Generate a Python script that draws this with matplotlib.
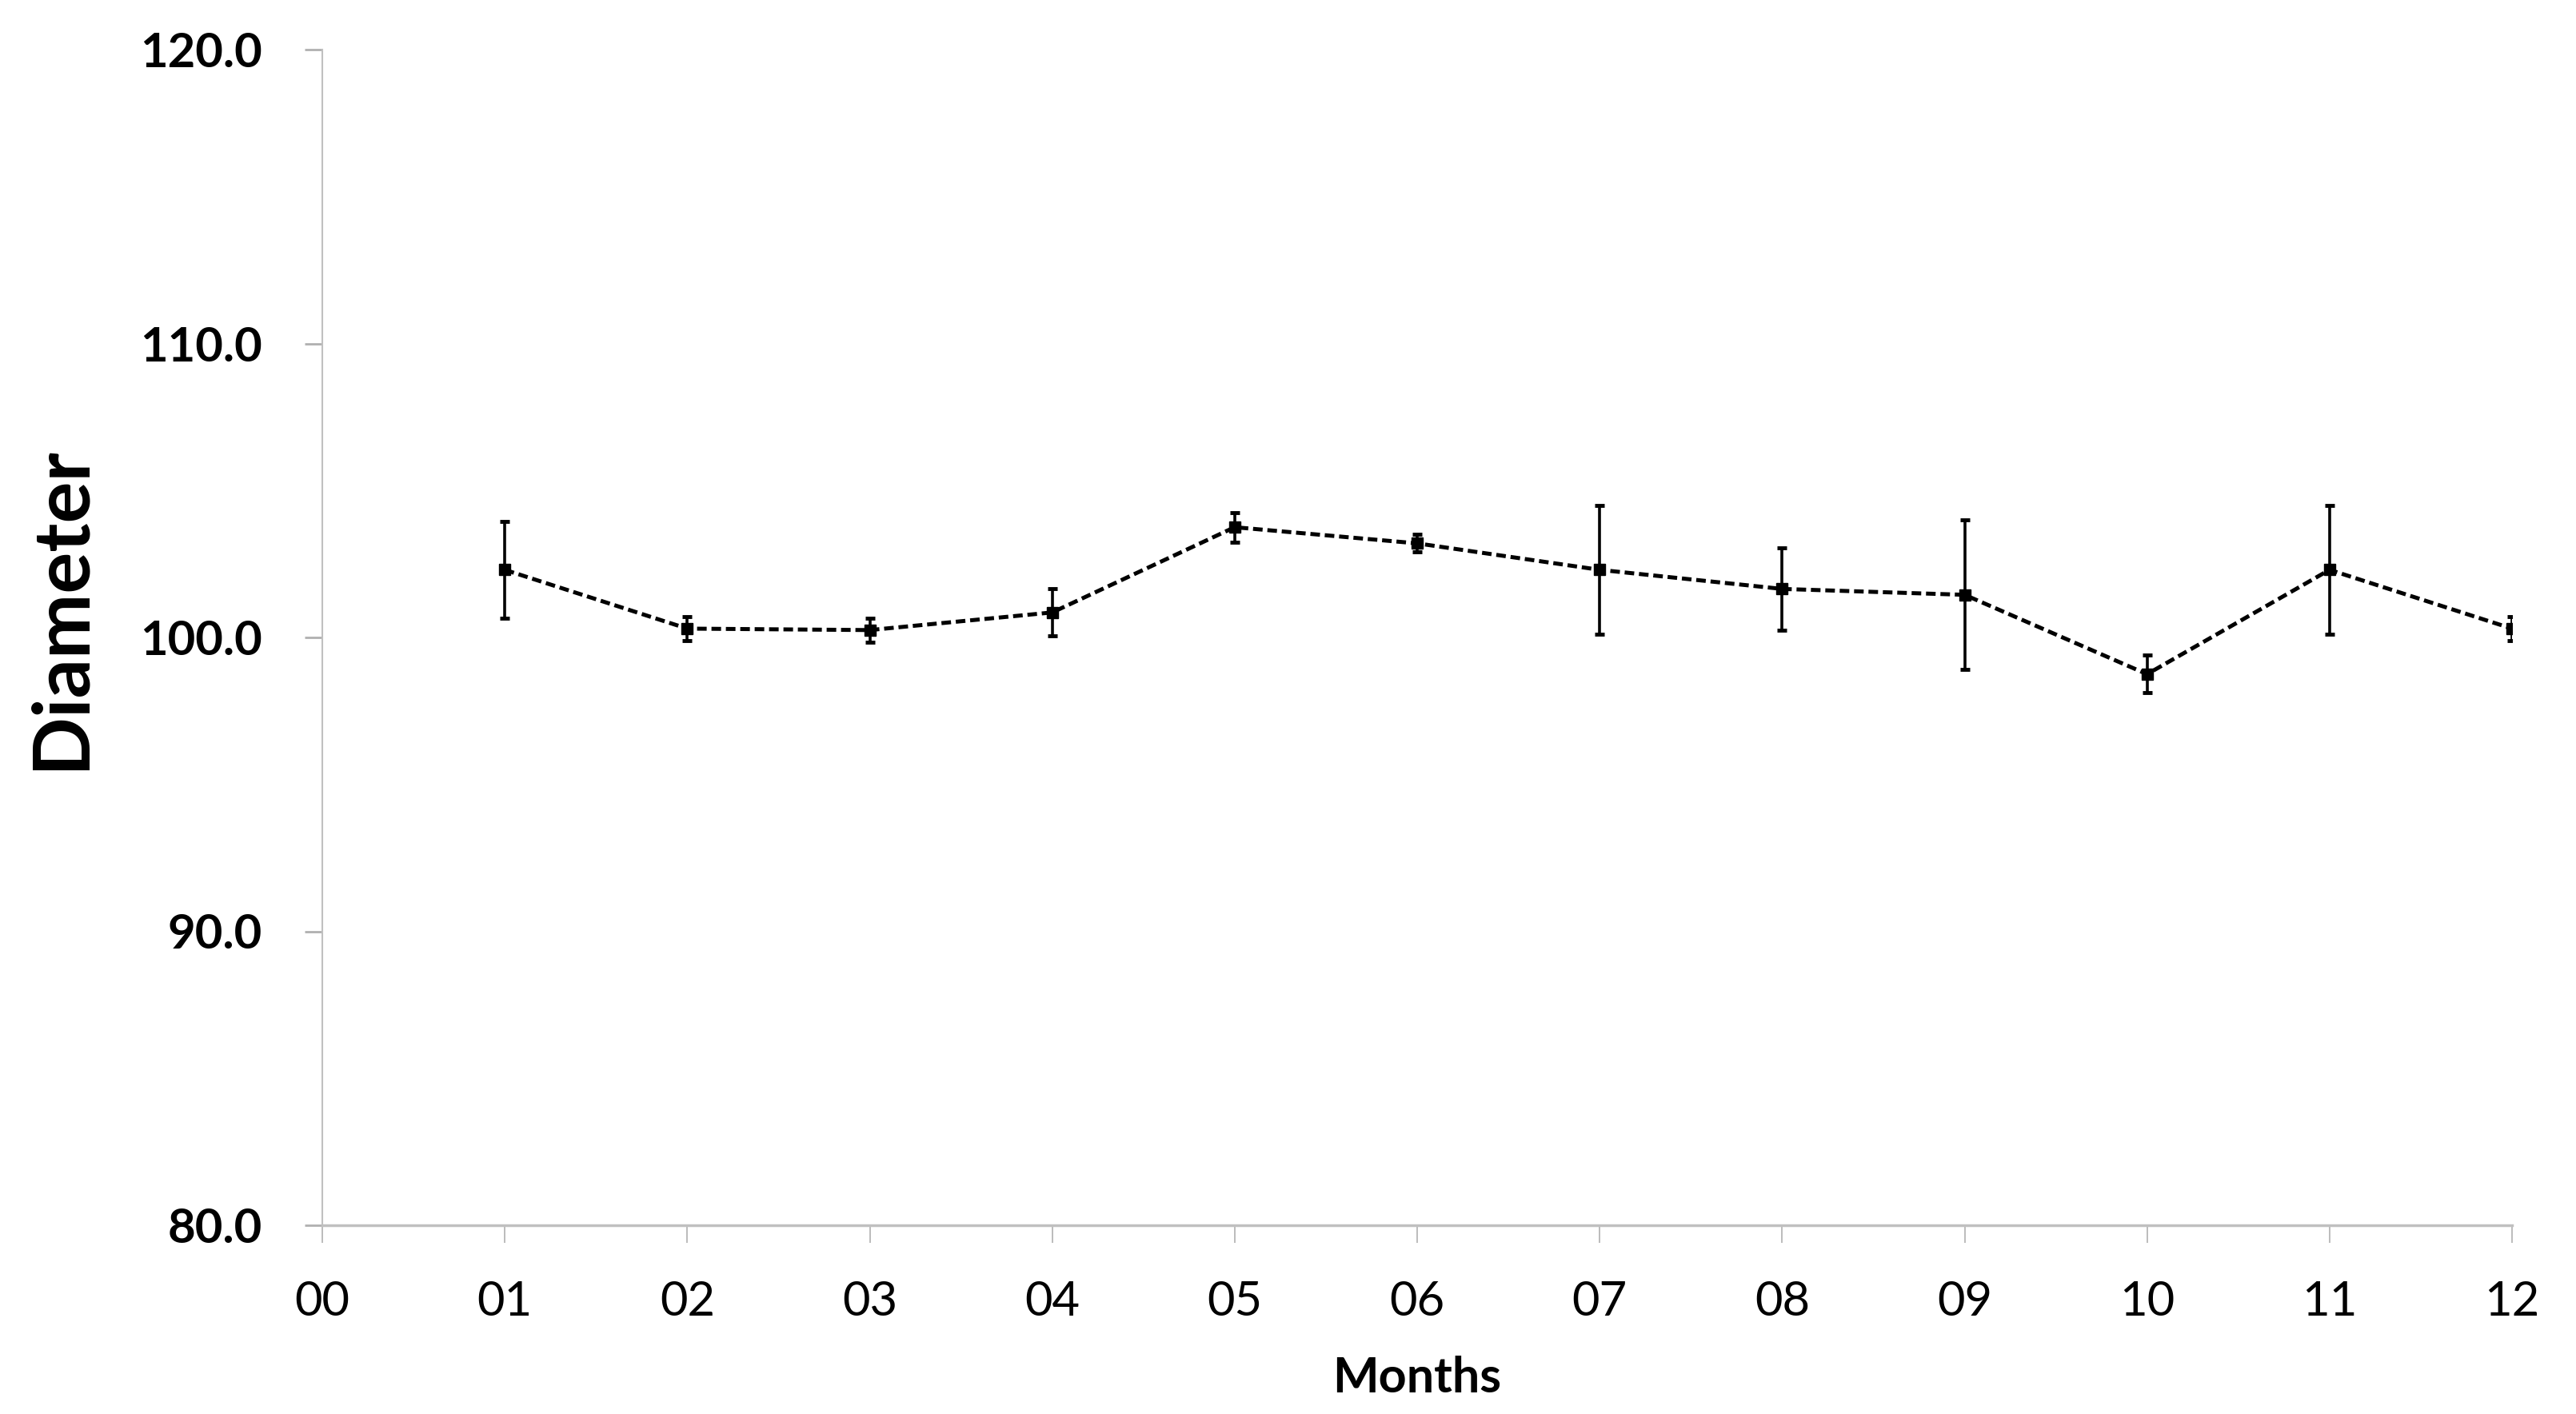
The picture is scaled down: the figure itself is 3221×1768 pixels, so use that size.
import matplotlib
matplotlib.use("Agg")
import matplotlib.pyplot as plt

months = ["00", "01", "02", "03", "04", "05", "06", "07", "08", "09", "10", "11", "12"]
x_pos = [1, 2, 3, 4, 5, 6, 7, 8, 9, 10, 11, 12]
diameter = [102.3, 100.3, 100.25, 100.85, 103.75, 103.2, 102.3, 101.65, 101.45, 98.75, 102.3, 100.3]
err = [1.65, 0.42, 0.4, 0.8, 0.5, 0.3, 2.18, 1.4, 2.55, 0.64, 2.18, 0.42]
y_ticks = [80.0, 90.0, 100.0, 110.0, 120.0]

plt.rcParams['font.family'] = ['Lato', 'DejaVu Sans']

fig = plt.figure(figsize=(32.21, 17.68), dpi=100)
ax = fig.add_axes([403 / 3221, 1 - 1532 / 1768, (3141 - 403) / 3221, (1532 - 62) / 1768])

ax.plot(x_pos, diameter, ls=(0, (2.4, 1.2)), color='black', lw=3.6,
        marker='s', markersize=10, markerfacecolor='black', markeredgecolor='black', zorder=3)
ax.errorbar(x_pos, diameter, yerr=err, fmt='none', ecolor='black', elinewidth=2.6,
            capsize=4.5, capthick=3.5, zorder=4)

ax.set_xlim(0, 12)
ax.set_ylim(80, 120)
ax.set_xticks(range(len(months)))
ax.set_xticklabels(months)
ax.set_yticks(y_ticks)
ax.set_yticklabels([f"{v:.1f}" for v in y_ticks], fontweight='bold')

for s in ['top', 'right']:
    ax.spines[s].set_visible(False)
ax.spines['left'].set_color('#c0c0c0')
ax.spines['left'].set_linewidth(1.5)
ax.spines['bottom'].set_color('#c0c0c0')
ax.spines['bottom'].set_linewidth(2.5)

ax.tick_params(axis='y', length=16, width=2, color='#b0b0b0', pad=38, labelsize=43)
ax.tick_params(axis='x', length=16, width=1.2, color='#b0b0b0', pad=34, labelsize=43)

ax.set_xlabel("Months", fontsize=44, fontweight='bold', va='center')
ax.xaxis.set_label_coords(0.5, -0.13)
ax.set_ylabel("Diameter", fontsize=70, fontweight='bold', va='center')
ax.yaxis.set_label_coords(-0.1194, 0.525)

fig.savefig("out.png", dpi=100, facecolor='white')
